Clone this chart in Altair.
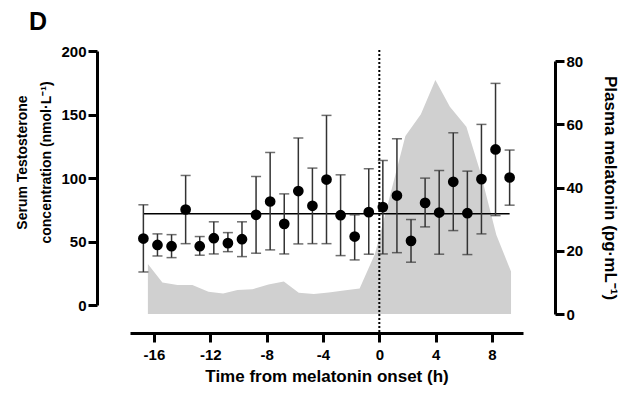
import altair as alt
import pandas as pd

# Testosterone samples (hours from melatonin onset)
t_pts = [-16.75, -15.75, -14.75, -13.75, -12.75, -11.75, -10.75, -9.75, -8.75,
         -7.75, -6.75, -5.75, -4.75, -3.75, -2.75, -1.75, -0.75, 0.25, 1.25,
         2.25, 3.25, 4.25, 5.25, 6.25, 7.25, 8.25, 9.25]
testo = [52.3, 47.3, 46.3, 75.2, 46.3, 52.6, 48.7, 51.8, 71.0, 81.5, 63.9, 89.7,
         78.1, 98.8, 70.7, 53.9, 73.1, 77.1, 86.2, 50.5, 80.4, 72.8, 97.0, 72.3,
         99.1, 122.5, 100.4]
testo_lo = [26.0, 38.6, 37.3, 48.3, 39.2, 40.2, 42.0, 38.1, 40.8, 43.4, 40.2, 48.1,
            48.3, 48.3, 38.9, 35.5, 40.0, 40.2, 41.2, 33.7, 61.5, 40.0, 58.6, 39.7,
            56.0, 70.4, 78.6]
testo_hi = [78.9, 56.0, 55.4, 102.0, 53.9, 65.5, 57.0, 65.5, 101.2, 120.1, 87.5, 131.5,
            107.8, 149.3, 102.5, 71.0, 107.3, 113.8, 130.9, 67.3, 99.9, 105.9, 135.6,
            105.4, 142.2, 174.5, 122.0]
mean_level = [71.8]
mean_start = [-16.75]
mean_end = [9.25]

# Plasma melatonin profile
t_mel = [-16.43, -15.40, -14.33, -13.27, -12.13, -11.09, -10.07, -9.01, -7.87, -6.78,
         -5.72, -4.65, -3.59, -2.53, -1.40, -0.31, 0.77, 1.85, 2.95, 3.98, 5.01,
         6.18, 7.17, 8.31, 9.35]
melatonin = [15.8, 10.0, 9.2, 9.2, 7.0, 6.5, 7.6, 7.8, 9.3, 10.3, 6.7, 6.3, 6.8, 7.4,
             8.1, 19.0, 37.6, 56.3, 63.2, 74.0, 65.5, 59.2, 44.9, 25.0, 13.4]

onset = [0]
x_ticks = [-16, -12, -8, -4, 0, 4, 8]
left_ticks = [0, 50, 100, 150, 200]
right_ticks = [0, 20, 40, 60, 80]

pts = pd.DataFrame({"t": t_pts, "v": testo, "lo": testo_lo, "hi": testo_hi})
mel = pd.DataFrame({"t": t_mel, "m": melatonin})
mean_df = pd.DataFrame({"t": mean_start, "t2": mean_end, "v": mean_level})
onset_df = pd.DataFrame({"t": onset})

FONT = "Liberation Sans"

xscale = alt.Scale(domain=[-17.7, 10.2], nice=False, zero=False)
xaxis = alt.Axis(values=x_ticks, offset=19, title="Time from melatonin onset (h)",
                 labelExpr="datum.value < 0 ? '-' + abs(datum.value) : '' + datum.value",
                 domainWidth=3, tickWidth=3, tickSize=9, labelPadding=5,
                 titleFontSize=17, titlePadding=6)

lscale = alt.Scale(domain=[0, 200], range=[254, 0], nice=False)
laxis = alt.Axis(values=left_ticks, orient="left", offset=33,
                 title=["Serum Testosterone", "concentration (nmol·L⁻¹)"],
                 domainWidth=3, tickWidth=3, tickSize=9, labelPadding=2,
                 titleFontSize=14, titleLineHeight=24, titleY=111, titlePadding=7)

rscale = alt.Scale(domain=[0, 80], range=[263, 10], nice=False)
raxis = alt.Axis(values=right_ticks, orient="right", offset=32,
                 title="Plasma melatonin (pg·mL⁻¹)",
                 domainWidth=3, tickWidth=3, tickSize=9, labelPadding=2,
                 titleFontSize=17, titlePadding=18)


def X(field):
    return alt.X(f"{field}:Q", scale=xscale, axis=xaxis)


area = alt.Chart(mel).mark_area(color="#d0d0d0").encode(
    x=X("t"),
    y=alt.Y("m:Q", scale=rscale, axis=raxis),
)

onset_rule = alt.Chart(onset_df).mark_rule(
    color="black", strokeDash=[2, 2], strokeWidth=2
).encode(x=X("t"), y=alt.value(-1), y2=alt.value(282))

mean_rule = alt.Chart(mean_df).mark_rule(color="black", strokeWidth=1.5).encode(
    x=X("t"), x2="t2:Q", y=alt.Y("v:Q", scale=lscale, axis=laxis)
)

err = alt.Chart(pts).mark_rule(color="#333333", strokeWidth=1.5).encode(
    x=X("t"), y=alt.Y("lo:Q", scale=lscale, axis=laxis), y2="hi:Q"
)
cap_lo = alt.Chart(pts).mark_tick(color="#333333", orient="horizontal", size=10,
                                  thickness=1.5).encode(
    x=X("t"), y=alt.Y("lo:Q", scale=lscale, axis=laxis)
)
cap_hi = alt.Chart(pts).mark_tick(color="#333333", orient="horizontal", size=10,
                                  thickness=1.5).encode(
    x=X("t"), y=alt.Y("hi:Q", scale=lscale, axis=laxis)
)
points = alt.Chart(pts).mark_circle(color="black", size=115, opacity=1).encode(
    x=X("t"), y=alt.Y("v:Q", scale=lscale, axis=laxis)
)

inner = alt.layer(onset_rule, mean_rule, err, cap_lo, cap_hi, points)

chart = alt.layer(area, inner).resolve_scale(y="independent").properties(
    width=393, height=263,
    padding={"left": 130, "top": 51, "right": 109, "bottom": 80},
    autosize=alt.AutoSizeParams(type="none"),
    title=alt.TitleParams("D", anchor="start", frame="group", fontSize=25,
                          fontWeight="bold", font=FONT, dx=-101, dy=-5),
).configure_view(stroke=None).configure_axis(
    grid=False, domainColor="black", tickColor="black",
    labelFont=FONT, labelFontWeight="bold", labelFontSize=15, labelColor="black",
    titleFont=FONT, titleFontWeight="bold", titleColor="black",
)

chart.save("out.html", embed_options={"renderer": "svg", "actions": False})
